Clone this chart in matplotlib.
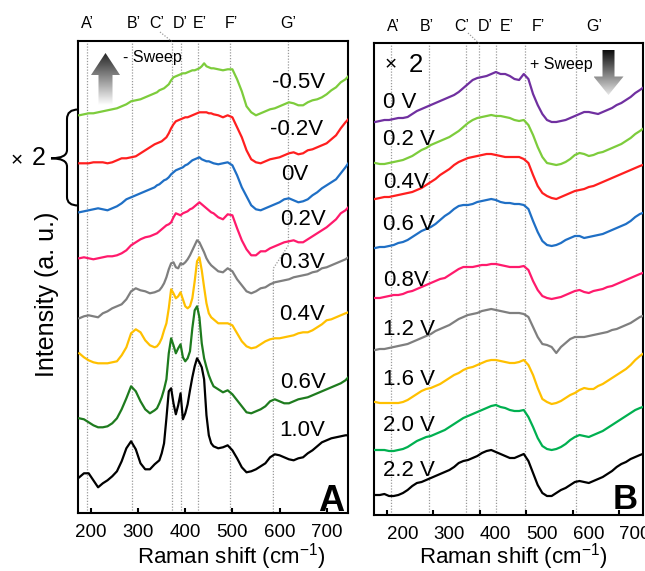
import numpy as np
import matplotlib
matplotlib.use("Agg")
import matplotlib.pyplot as plt
from matplotlib.path import Path
from matplotlib.patches import PathPatch, Polygon
from matplotlib.colors import LinearSegmentedColormap
from matplotlib.transforms import ScaledTranslation

plt.rcParams['font.family'] = ['Liberation Sans', 'DejaVu Sans']
plt.rcParams['mathtext.fontset'] = 'custom'
plt.rcParams['mathtext.rm'] = 'Liberation Sans'
plt.rcParams['mathtext.it'] = 'Liberation Sans:italic'
plt.rcParams['mathtext.bf'] = 'Liberation Sans:bold'

# ---- panel A data (Raman shift, stacked intensity a.u.) ----
xa = [175, 185, 195, 205, 215, 225, 235, 245, 255, 265, 275, 285, 295, 305, 315, 325, 335,
      340, 345, 350, 355, 360, 365, 370, 375, 380, 385, 390, 395, 400, 405, 410, 415, 420,
      425, 430, 435, 440, 445, 450, 455, 460,
      470, 480, 490, 500, 510, 520, 530, 540, 550, 560, 570, 580, 590, 600, 610, 620, 630,
      640, 650, 660, 670, 680, 690, 700, 710, 720, 730, 740, 746]

a_m05 = [398, 399, 400, 400, 401, 402, 403, 404, 405, 407, 409, 412, 413, 414, 416, 418, 420,
         421, 423, 424, 425, 427, 429, 433, 436, 437, 438, 439, 440, 440, 441, 442, 443, 443,
         444, 445, 447, 450, 447, 446, 445, 445,
         444, 443, 444, 444, 434, 422, 407, 401, 398, 400, 402, 404, 405, 407, 409, 411, 410,
         408, 408, 411, 413, 414, 416, 419, 423, 426, 431, 434, 437]
a_m02 = [350, 350, 350, 351, 351, 351, 350, 351, 353, 355, 355, 356, 357, 360, 363, 366, 369,
         370, 371, 372, 374, 376, 380, 385, 389, 392, 393, 394, 395, 396, 396, 397, 398, 399,
         400, 401, 401, 401, 401, 400, 400, 399,
         398, 396, 398, 396, 386, 376, 363, 354, 351, 350, 352, 354, 355, 356, 358, 360, 361,
         359, 360, 363, 364, 366, 368, 370, 374, 378, 385, 391, 394]
a_0 = [301, 302, 303, 304, 305, 304, 303, 305, 307, 310, 314, 316, 318, 320, 322, 324, 326,
       328, 329, 331, 333, 334, 336, 339, 341, 343, 344, 345, 346, 348, 349, 351, 353, 354,
       355, 356, 354, 353, 352, 352, 351, 350,
       349, 350, 351, 348, 338, 326, 317, 308, 304, 303, 305, 307, 309, 311, 314, 315, 313,
       311, 312, 314, 318, 321, 325, 328, 331, 334, 340, 346, 350]
a_02 = [255, 256, 255, 254, 255, 256, 257, 257, 258, 260, 263, 268, 271, 274, 276, 277, 279,
        280, 282, 284, 286, 288, 289, 291, 296, 300, 299, 298, 300, 301, 302, 304, 305, 307,
        309, 311, 309, 307, 305, 303, 301, 300,
        296, 294, 299, 298, 285, 273, 264, 258, 258, 262, 262, 265, 267, 269, 271, 272, 273,
        271, 271, 274, 277, 280, 283, 286, 290, 294, 300, 303, 306]
a_03 = [195, 197, 198, 197, 196, 200, 202, 205, 207, 209, 214, 222, 225, 223, 222, 220, 221,
        222, 223, 226, 230, 236, 244, 250, 251, 246, 245, 250, 249, 251, 254, 258, 263, 268,
        273, 271, 266, 261, 255, 251, 248, 246,
        242, 241, 245, 242, 234, 228, 222, 220, 222, 225, 226, 229, 231, 232, 233, 234, 236,
        237, 238, 239, 241, 242, 245, 246, 248, 250, 252, 254, 256]
a_04 = [160, 156, 153, 151, 150, 150, 150, 151, 152, 158, 166, 180, 184, 181, 173, 168, 166,
        167, 170, 175, 183, 190, 205, 224, 220, 215, 217, 221, 214, 207, 205, 207, 215, 232,
        252, 256, 243, 226, 210, 200, 196, 194,
        190, 190, 190, 188, 180, 172, 167, 165, 166, 169, 172, 174, 175, 175, 176, 177, 178,
        180, 181, 181, 183, 186, 189, 193, 194, 196, 198, 200, 201]
a_06 = [95, 94, 91, 88, 86, 86, 87, 90, 95, 104, 115, 127, 122, 112, 104, 100, 103,
        105, 110, 116, 124, 134, 160, 175, 168, 160, 165, 169, 156, 152, 155, 162, 185, 203,
        207, 196, 170, 155, 146, 138, 132, 127,
        124, 121, 123, 119, 113, 107, 101, 100, 102, 104, 107, 112, 114, 112, 110, 110, 112,
        114, 115, 116, 118, 120, 122, 124, 126, 128, 130, 133, 136]
a_10 = [36, 40, 40, 33, 26, 30, 33, 37, 42, 52, 65, 72, 64, 50, 44, 44, 49,
        51, 53, 60, 70, 95, 122, 125, 110, 99, 108, 120, 94, 100, 109, 123, 136, 147,
        155, 151, 146, 134, 98, 78, 70, 67,
        65, 66, 68, 63, 55, 46, 41, 42, 44, 47, 50, 56, 59, 58, 56, 54, 53,
        55, 56, 60, 63, 67, 71, 73, 75, 76, 77, 78, 78]

a_series = [a_m05, a_m02, a_0, a_02, a_03, a_04, a_06, a_10]
a_labels = ["-0.5V", "-0.2V", "0V", "0.2V", "0.3V", "0.4V", "0.6V", "1.0V"]
a_colors = ['#7dcc3c', '#ff1f1f', '#1f6fc5', '#ff1a6c', '#7f7f7f', '#ffc000', '#1e7b1e', '#000000']

# ---- panel B data ----
xb = [175, 185, 195, 205, 215, 225, 235, 245, 255, 265, 275, 285, 295, 305, 315, 325, 335,
      345, 355, 365, 375, 385, 395, 405, 415, 425, 435, 445, 455, 465, 475, 485, 495, 505,
      515, 525, 535, 545, 555, 565, 575, 585, 595, 605, 615, 625, 635, 645, 655, 665, 675,
      685, 695, 705, 715, 725, 735, 745, 751]

b_0 = [393, 394, 395, 395, 396, 397, 397, 398, 401, 404, 406, 408, 410, 412, 414, 416, 418,
       420, 423, 427, 431, 435, 437, 438, 439, 441, 443, 441, 441, 439, 436, 435, 441, 436,
       421, 410, 401, 395, 393, 393, 394, 395, 397, 399, 401, 403, 403, 402, 401, 403, 405,
       407, 410, 412, 415, 418, 422, 425, 427]
b_02 = [352, 351, 351, 352, 353, 354, 355, 357, 359, 362, 365, 367, 370, 372, 374, 376, 378,
        381, 384, 388, 392, 395, 397, 398, 399, 400, 399, 399, 398, 397, 395, 394, 395, 390,
        380, 368, 358, 352, 351, 350, 351, 353, 356, 360, 362, 361, 359, 360, 362, 363, 365,
        367, 369, 371, 374, 377, 381, 384, 386]
b_04 = [316, 317, 318, 318, 319, 320, 321, 322, 323, 325, 327, 330, 333, 336, 340, 343, 346,
        350, 353, 355, 357, 358, 359, 360, 361, 361, 360, 359, 358, 358, 358, 358, 356, 352,
        340, 329, 322, 319, 317, 316, 318, 320, 322, 324, 325, 326, 328, 329, 331, 333, 335,
        337, 339, 341, 343, 345, 347, 349, 350]
b_06 = [267, 268, 268, 269, 270, 272, 273, 275, 278, 281, 284, 286, 288, 291, 295, 299, 302,
        306, 309, 310, 310, 311, 313, 314, 315, 316, 315, 313, 312, 312, 311, 311, 310, 306,
        294, 283, 274, 270, 269, 270, 272, 275, 277, 279, 279, 277, 278, 279, 280, 281, 283,
        285, 287, 289, 291, 294, 298, 301, 302]
b_08 = [217, 217, 218, 219, 220, 220, 221, 223, 224, 226, 228, 230, 232, 234, 236, 237, 240,
        243, 246, 248, 248, 248, 249, 250, 250, 251, 251, 250, 249, 248, 248, 248, 249, 245,
        234, 225, 219, 217, 216, 217, 218, 220, 222, 224, 225, 223, 222, 224, 225, 226, 228,
        229, 231, 233, 235, 237, 239, 241, 242]
b_12 = [165, 166, 166, 167, 168, 169, 170, 171, 173, 175, 177, 179, 181, 184, 186, 188, 190,
        193, 196, 198, 200, 201, 202, 204, 205, 206, 205, 204, 203, 202, 202, 202, 201, 198,
        188, 178, 171, 170, 168, 162, 168, 172, 176, 178, 178, 178, 179, 180, 181, 182, 183,
        185, 186, 188, 190, 192, 195, 198, 199]
b_16 = [113, 112, 112, 112, 112, 112, 113, 115, 118, 121, 124, 126, 127, 129, 131, 134, 137,
        140, 142, 145, 147, 148, 150, 152, 154, 155, 155, 154, 153, 152, 152, 153, 155, 150,
        140, 127, 116, 113, 111, 112, 114, 117, 120, 122, 125, 127, 126, 126, 129, 131, 134,
        137, 140, 143, 146, 150, 155, 159, 161]
b_20 = [65, 65, 65, 64, 64, 65, 66, 68, 71, 74, 76, 78, 79, 81, 83, 85, 88,
        91, 94, 97, 99, 101, 103, 105, 107, 109, 110, 108, 107, 105, 104, 104, 105, 98,
        88, 77, 69, 66, 65, 66, 68, 71, 75, 78, 80, 79, 78, 80, 82, 84, 87,
        90, 93, 96, 99, 102, 105, 107, 108]
b_22 = [20, 20, 21, 19, 19, 20, 22, 25, 29, 32, 33, 35, 37, 39, 41, 43, 45,
        48, 52, 54, 55, 57, 59, 62, 64, 65, 63, 61, 59, 57, 57, 59, 61, 54,
        42, 30, 22, 19, 19, 22, 25, 27, 30, 33, 34, 33, 32, 34, 36, 38, 41,
        44, 48, 51, 53, 56, 58, 60, 61]

b_series = [b_0, b_02, b_04, b_06, b_08, b_12, b_16, b_20, b_22]
b_labels = ["0 V", "0.2 V", "0.4V", "0.6 V", "0.8V", "1.2 V", "1.6 V", "2.0 V", "2.2 V"]
b_colors = ['#7030a0', '#7dcc3c', '#ff1f1f', '#1f6fc5', '#ff1a6c', '#7f7f7f', '#ffc000',
            '#00b050', '#000000']

peak_names = ["A’", "B’", "C’", "D’", "E’", "F’", "G’"]
peaks_a = [191, 288, 372, 391, 428, 496, 587]
peaks_b = [209, 291, 371, 398, 436, 497, 608]

W, H = 645, 571
fig = plt.figure(figsize=(W / 100, H / 100), dpi=100)


def box(x0, y0, x1, y1):
    return [x0 / W, 1 - y1 / H, (x1 - x0) / W, (y1 - y0) / H]


axA = fig.add_axes(box(78.3, 41.3, 348.3, 513.3))
axB = fig.add_axes(box(374.3, 43.3, 642.7, 515))

dot = dict(color='#9a9a9a', lw=0.9, ls=(0, (1, 1.3)), zorder=1)

for ax, xlim, ytop in ((axA, (173, 746), 472), (axB, (173.3, 751), 471.7)):
    ax.set_xlim(*xlim)
    ax.set_ylim(0, ytop)
    ax.set_yticks([])
    ax.set_xticks([200, 300, 400, 500, 600, 700])
    ax.tick_params(axis='x', direction='in', length=3.6, width=1.5, pad=8, labelsize=13.5)
    for s in ax.spines.values():
        s.set_linewidth(1.5)

for x in peaks_a[:-1]:
    axA.plot([x, x], [0, 472], **dot)
axA.plot([619, 619, peaks_a[-1], peaks_a[-1]], [472, 268, 245, 0], **dot)
for x in peaks_b:
    axB.plot([x, x], [0, 472], **dot)

for y, c in zip(a_series, a_colors):
    axA.plot(xa, y, color=c, lw=1.6, zorder=3)
for y, c in zip(b_series, b_colors):
    axB.plot(xb, y, color=c, lw=1.6, zorder=3)

shift = ScaledTranslation(16 / 100, 0, fig.dpi_scale_trans)
for lab in axB.get_xticklabels():
    lab.set_transform(lab.get_transform() + shift)

# overlay in pixel coordinates for annotations
ov = fig.add_axes([0, 0, 1, 1], zorder=10)
ov.axis('off')


def ptext(x, yc, s, fs, ha='center', **kw):
    ov.text(x, yc + 0.358 * fs * 100 / 72, s, fontsize=fs, ha=ha, va='baseline', **kw)


for name, x in zip(peak_names, [87.7, 134, 157, 180, 200, 231.7, 288.3]):
    ptext(x, 22.5, name, 11.5)
for name, x in zip(peak_names, [393.3, 426.7, 461.7, 485, 506.7, 538.3, 594.3]):
    ptext(x, 25, name, 11.5)
ov.plot([160, 171.7], [32, 41.3], color='#9a9a9a', lw=0.9, ls=(0, (1, 1.3)))
ov.plot([468, 479], [33, 43.3], color='#9a9a9a', lw=0.9, ls=(0, (1, 1.3)))

a_pos = [(298.3, 80), (296.5, 126.7), (295, 171.7), (303.3, 216.7), (302.5, 260),
         (302.5, 311.7), (303.3, 380), (302.5, 428.3)]
for lab, (x, y) in zip(a_labels, a_pos):
    ptext(x, y, lab, 16)
b_pos = [100, 136.7, 180, 221.7, 278.3, 326.7, 376.7, 423.3, 468.3]
for lab, y in zip(b_labels, b_pos):
    ptext(383, y, lab, 16, ha='left')

ptext(152.5, 56.7, "- Sweep", 11.5)
ptext(561, 63.3, "+ Sweep", 11.5)

ov.text(330.8, 510.7, "A", fontsize=26, fontweight='bold', ha='center', va='baseline')
ov.text(625, 509.3, "B", fontsize=25, fontweight='bold', ha='center', va='baseline')

ptext(17, 159, "×", 15)
ptext(38.3, 156, "2", 18)
ptext(391, 63, "×", 15)
ptext(415.8, 62.5, "2", 18.5)

ov.text(47, 294, "Intensity (a. u.)", rotation=90, fontsize=18, ha='center', va='center')
ov.text(231, 564, "Raman shift (cm$^{-1}$)", fontsize=16, ha='center', va='baseline')
ov.text(513, 564, "Raman shift (cm$^{-1}$)", fontsize=16, ha='center', va='baseline')

# brace
verts = [(78.3, 109.5), (67, 109.5), (67, 119), (67, 150), (67, 158.3), (51, 158.3),
         (67, 158.3), (67, 166.5), (67, 197), (67, 205.5), (78.3, 205.5)]
codes = [Path.MOVETO, Path.CURVE3, Path.CURVE3, Path.LINETO, Path.CURVE3, Path.CURVE3,
         Path.CURVE3, Path.CURVE3, Path.LINETO, Path.CURVE3, Path.CURVE3]
ov.add_patch(PathPatch(Path(verts, codes), fc='none', ec='black', lw=1.5))


def grad_arrow(pts, c_top, c_bot):
    poly = Polygon(pts, closed=True, fc='none', ec='none')
    ov.add_patch(poly)
    xs = [p[0] for p in pts]
    ys = [p[1] for p in pts]
    cmap = LinearSegmentedColormap.from_list('g', [c_top, c_bot])
    im = ov.imshow(np.linspace(0, 1, 256)[:, None], extent=(min(xs), max(xs), max(ys), min(ys)),
                   cmap=cmap, aspect='auto', origin='upper', interpolation='bilinear')
    im.set_clip_path(poly)


grad_arrow([(105.5, 53), (120, 75), (112.5, 75), (112.5, 105), (98.5, 105), (98.5, 75), (91, 75)],
           '#262626', '#ffffff')
grad_arrow([(602.5, 50), (614.5, 50), (614.5, 76.5), (623.5, 76.5), (608.5, 95), (593.5, 76.5),
            (602.5, 76.5)], '#0d0d0d', '#e6e6e6')

ov.set_xlim(0, W)
ov.set_ylim(H, 0)

fig.savefig("out.png", dpi=100)
